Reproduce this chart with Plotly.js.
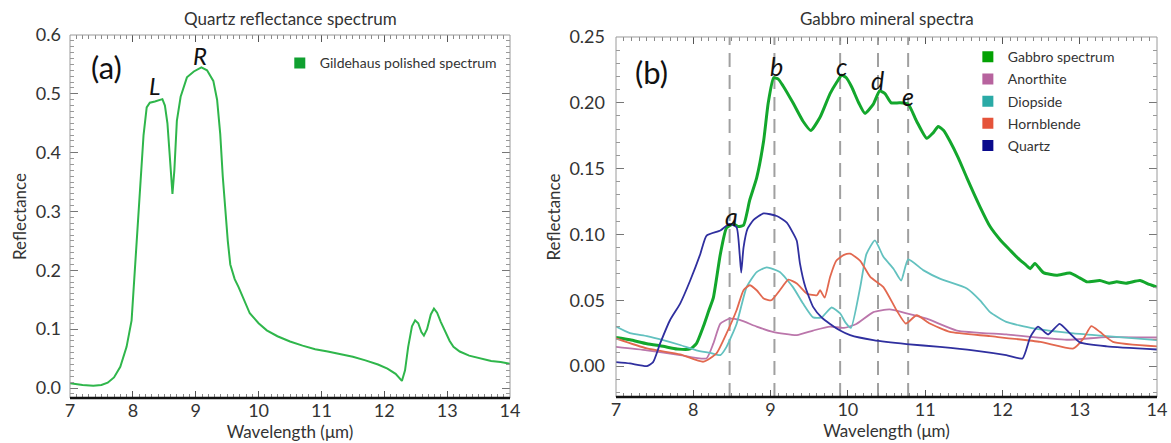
<!DOCTYPE html>
<html>
<head>
<meta charset="utf-8">
<script src="https://cdn.plot.ly/plotly-3.0.1.min.js"></script>
<style>html,body{margin:0;padding:0;background:#fff;}#chart{width:1171px;height:443px;}</style>
</head>
<body>
<div id="chart"></div>
<script>
// ---------- Panel (a): quartz polished spectrum ----------
const polishedX = [7.0,7.2,7.37,7.5,7.6,7.7,7.8,7.9,7.98,8.03,8.09,8.13,8.17,8.22,8.27,8.35,8.42,8.47,8.51,8.55,8.59,8.63,8.66,8.7,8.76,8.86,8.97,9.09,9.18,9.28,9.34,9.39,9.43,9.47,9.51,9.55,9.62,9.68,9.77,9.86,10.0,10.13,10.3,10.5,10.7,10.9,11.1,11.3,11.5,11.7,11.9,12.05,12.18,12.28,12.33,12.38,12.44,12.49,12.54,12.59,12.63,12.68,12.74,12.79,12.84,12.9,12.96,13.04,13.1,13.2,13.35,13.52,13.7,13.85,14.0];
const polishedY = [0.008,0.005,0.004,0.005,0.009,0.018,0.036,0.07,0.115,0.2,0.29,0.37,0.43,0.477,0.485,0.487,0.49,0.491,0.48,0.45,0.39,0.33,0.37,0.454,0.495,0.528,0.538,0.545,0.54,0.522,0.49,0.432,0.36,0.30,0.25,0.21,0.185,0.172,0.148,0.127,0.11,0.098,0.088,0.079,0.072,0.066,0.062,0.058,0.053,0.047,0.04,0.033,0.024,0.012,0.03,0.07,0.105,0.115,0.11,0.095,0.089,0.1,0.125,0.135,0.128,0.112,0.098,0.08,0.07,0.062,0.055,0.05,0.046,0.044,0.041];

// ---------- Panel (b): gabbro mineral spectra ----------
const gabbroX = [7.0,7.18,7.4,7.61,7.79,7.96,8.04,8.13,8.2,8.26,8.35,8.43,8.52,8.58,8.65,8.73,8.82,8.91,8.97,9.04,9.1,9.16,9.29,9.42,9.52,9.64,9.77,9.86,9.92,9.98,10.05,10.14,10.22,10.33,10.41,10.48,10.56,10.67,10.78,10.89,11.02,11.1,11.17,11.24,11.32,11.43,11.54,11.71,11.84,11.97,12.1,12.2,12.3,12.36,12.42,12.53,12.7,12.87,13.0,13.09,13.26,13.38,13.48,13.6,13.78,13.9,14.0];
const gabbroY = [0.0217,0.020,0.017,0.015,0.013,0.013,0.017,0.030,0.042,0.052,0.085,0.105,0.108,0.106,0.107,0.126,0.143,0.171,0.2,0.219,0.218,0.213,0.2,0.186,0.179,0.189,0.207,0.216,0.221,0.219,0.212,0.2,0.192,0.199,0.209,0.207,0.2,0.2,0.199,0.186,0.173,0.177,0.182,0.179,0.171,0.158,0.143,0.121,0.106,0.096,0.088,0.082,0.077,0.074,0.078,0.071,0.069,0.0707,0.067,0.064,0.065,0.063,0.064,0.063,0.065,0.062,0.060];

const anorthiteX = [7.0,7.4,7.83,8.17,8.26,8.35,8.47,8.6,8.82,9.03,9.34,9.55,9.77,9.95,10.11,10.33,10.54,10.76,11.02,11.41,12.05,12.83,13.35,14.0];
const anorthiteY = [0.0146,0.012,0.0083,0.0058,0.0172,0.0323,0.036,0.035,0.030,0.026,0.0235,0.027,0.030,0.029,0.032,0.041,0.043,0.040,0.036,0.027,0.024,0.020,0.022,0.0217];

const diopsideX = [7.0,7.18,7.4,7.61,7.83,8.04,8.22,8.35,8.43,8.56,8.69,8.82,8.95,9.12,9.29,9.42,9.55,9.66,9.79,9.9,9.97,10.04,10.16,10.24,10.35,10.46,10.59,10.69,10.78,10.98,11.19,11.54,11.71,11.84,12.05,12.4,12.92,13.35,14.0];
const diopsideY = [0.030,0.025,0.0227,0.0197,0.016,0.012,0.010,0.0083,0.0146,0.032,0.060,0.0714,0.075,0.0714,0.060,0.0475,0.037,0.037,0.0445,0.040,0.033,0.029,0.060,0.085,0.0955,0.083,0.074,0.065,0.081,0.0727,0.0664,0.059,0.05,0.041,0.0336,0.0286,0.0248,0.0227,0.0197];

const hornblendeX = [7.0,7.4,7.83,8.13,8.3,8.43,8.56,8.65,8.73,8.82,8.91,9.01,9.12,9.23,9.34,9.47,9.6,9.64,9.7,9.77,9.85,9.95,10.03,10.16,10.29,10.46,10.63,10.75,10.89,11.06,11.32,11.84,12.49,12.92,13.05,13.15,13.26,13.43,14.0];
const hornblendeY = [0.021,0.0134,0.0089,0.0033,0.0096,0.0248,0.0424,0.0576,0.0614,0.0576,0.0513,0.05,0.0576,0.0657,0.0627,0.055,0.0538,0.0576,0.052,0.0677,0.080,0.0845,0.0854,0.080,0.0677,0.060,0.0424,0.0323,0.0386,0.0323,0.026,0.0227,0.0184,0.0134,0.021,0.0303,0.026,0.0184,0.015];

const quartzX = [7.0,7.18,7.4,7.48,7.57,7.7,7.83,7.96,8.09,8.17,8.35,8.47,8.56,8.6,8.62,8.65,8.7,8.78,8.91,9.08,9.21,9.3,9.34,9.38,9.45,9.55,9.66,9.77,9.9,10.03,10.33,10.76,11.19,11.62,12.05,12.26,12.36,12.46,12.59,12.74,12.87,13.0,13.35,14.0];
const quartzY = [0.003,0.002,0.0,0.003,0.017,0.035,0.0475,0.065,0.085,0.099,0.103,0.108,0.1055,0.085,0.071,0.09,0.104,0.111,0.116,0.114,0.109,0.1,0.095,0.078,0.06,0.045,0.037,0.032,0.027,0.0235,0.0197,0.0167,0.0146,0.012,0.0083,0.0058,0.022,0.030,0.024,0.032,0.025,0.018,0.015,0.0126];

const featureX = [8.47, 9.05, 9.9, 10.39, 10.78];
const featureLabels = ['a', 'b', 'c', 'd', 'e'];
const featureLabelX = [8.5, 9.08, 9.92, 10.38, 10.78];
const featureLabelY = [0.114, 0.228, 0.228, 0.217, 0.205];

const quartzPeakLabels = ['L', 'R'];
const quartzPeakX = [8.35, 9.07];
const quartzPeakY = [0.515, 0.565];

const seriesNames = ['Gabbro spectrum', 'Anorthite', 'Diopside', 'Hornblende', 'Quartz'];
const lineColors = ['#13a72c', '#bb76ab', '#62c1bf', '#e2684f', '#2f2f9f'];
const legendColors = ['#03a103', '#b7639e', '#2aaaa6', '#e5533a', '#0a0a8c'];
const lineWidths = [3, 1.8, 1.8, 1.8, 1.8];
const seriesX = [gabbroX, anorthiteX, diopsideX, hornblendeX, quartzX];
const seriesY = [gabbroY, anorthiteY, diopsideY, hornblendeY, quartzY];

const FONT = 'Lato, "Open Sans", "DejaVu Sans", sans-serif';
const TXT = '#333333';

const traces = [];
traces.push({x: polishedX, y: polishedY, xaxis: 'x', yaxis: 'y', mode: 'lines',
  line: {color: '#2fb64b', width: 2}, showlegend: false, hoverinfo: 'x+y'});
traces.push({x: [null], y: [null], xaxis: 'x', yaxis: 'y', mode: 'markers', name: 'Gildehaus polished spectrum',
  marker: {symbol: 'square', size: 11, color: '#10a030'}, legend: 'legend', showlegend: true});

seriesNames.forEach((n, i) => {
  traces.push({x: seriesX[i], y: seriesY[i], xaxis: 'x2', yaxis: 'y2', mode: 'lines', name: n,
    line: {color: lineColors[i], width: lineWidths[i], shape: 'spline', smoothing: 0.5}, showlegend: false});
});
seriesNames.forEach((n, i) => {
  traces.push({x: [null], y: [null], xaxis: 'x2', yaxis: 'y2', mode: 'markers', name: n,
    marker: {symbol: 'square', size: 11, color: legendColors[i]}, legend: 'legend2',
    legendgroup: 'g' + i, showlegend: true});
});

function xax(domain, anchor) {
  return {domain: domain, anchor: anchor, range: [7, 14], dtick: 1, tick0: 7,
    ticks: 'inside', ticklen: 7, tickwidth: 1, tickcolor: '#555', mirror: 'ticks',
    showline: false, zeroline: false, showgrid: false,
    minor: {dtick: 0.1, ticks: 'inside', ticklen: 4, tickcolor: '#888', showgrid: false},
    tickfont: {family: FONT, size: 18, color: TXT},
    title: {text: 'Wavelength (μm)', font: {family: FONT, size: 17, color: TXT}, standoff: 1}};
}
function yax(domain, anchor, range, dtick, fmt, standoff) {
  return {domain: domain, anchor: anchor, range: range, dtick: dtick, tick0: 0, tickformat: fmt,
    ticks: 'inside', ticklen: 8, tickwidth: 1, tickcolor: '#777', mirror: 'ticks',
    showline: false, zeroline: false, showgrid: false, ticklabelstandoff: standoff,
    minor: {dtick: 0.01, ticks: 'inside', ticklen: 4, tickcolor: '#999', showgrid: false},
    tickfont: {family: FONT, size: 18, color: TXT},
    title: {text: 'Reflectance', font: {family: FONT, size: 17, color: TXT}, standoff: 4}};
}

const shapes = [];
['x', 'x2'].forEach((xa, k) => {
  const ya = k === 0 ? 'y' : 'y2';
  shapes.push({type: 'rect', xref: xa + ' domain', yref: ya + ' domain', x0: 0, x1: 1, y0: 0, y1: 1,
    line: {color: '#9a9a9a', width: 1}, layer: 'above'});
  shapes.push({type: 'line', xref: xa + ' domain', yref: ya + ' domain', x0: 0, x1: 1, y0: 0, y1: 0,
    line: {color: '#111', width: 2.5}, layer: 'above'});
});
featureX.forEach(fx => {
  shapes.push({type: 'line', xref: 'x2', yref: 'y2 domain', x0: fx, x1: fx, y0: 0, y1: 1,
    line: {color: '#a0a0a0', width: 2, dash: '14px,8px'}, layer: 'below'});
});

const C = {xanchor: 'center', yanchor: 'middle', showarrow: false};
const annotations = [
  Object.assign({text: 'Quartz reflectance spectrum', xref: 'x domain', yref: 'paper', x: 0.5, y: 1.046,
   font: {family: FONT, size: 17, color: TXT}}, C),
  Object.assign({text: 'Gabbro mineral spectra', xref: 'x2 domain', yref: 'paper', x: 0.5, y: 1.046,
   font: {family: FONT, size: 17, color: TXT}}, C),
  Object.assign({text: '(a)', xref: 'x domain', yref: 'y domain', x: 0.082, y: 0.913,
   font: {family: FONT, size: 31, color: '#111'}}, C),
  Object.assign({text: '(b)', xref: 'x2 domain', yref: 'y2 domain', x: 0.066, y: 0.904,
   font: {family: FONT, size: 31, color: '#111'}}, C)
];
quartzPeakLabels.forEach((t, i) => annotations.push(Object.assign({text: '<i>' + t + '</i>', xref: 'x', yref: 'y',
  x: quartzPeakX[i], y: quartzPeakY[i], font: {family: FONT, size: 24, color: '#111'}}, C)));
featureLabels.forEach((t, i) => annotations.push(Object.assign({text: '<i>' + t + '</i>', xref: 'x2', yref: 'y2',
  x: featureLabelX[i], y: featureLabelY[i], font: {family: FONT, size: 25, color: '#111'}}, C)));

const layout = {
  width: 1171, height: 443,
  margin: {l: 70, r: 14, t: 35, b: 45},
  paper_bgcolor: '#ffffff', plot_bgcolor: '#ffffff',
  xaxis: xax([0, 0.4048], 'y'),
  yaxis: yax([0, 1], 'x', [-0.017, 0.6], 0.1, '.1f', 8),
  xaxis2: xax([0.5023, 1], 'y2'),
  yaxis2: yax([0.00275, 0.9945], 'x2', [-0.0235, 0.25], 0.05, '.2f', 10),
  legend: {x: 0.193, y: 0.966, xanchor: 'left', yanchor: 'top', bgcolor: 'rgba(0,0,0,0)',
    font: {family: FONT, size: 14, color: TXT}, itemsizing: 'trace'},
  legend2: {x: 0.826, y: 0.983, xanchor: 'left', yanchor: 'top', bgcolor: 'rgba(0,0,0,0)',
    font: {family: FONT, size: 14, color: TXT}, itemsizing: 'trace', tracegroupgap: 1},
  shapes: shapes,
  annotations: annotations,
  showlegend: true
};

Plotly.newPlot('chart', traces, layout, {displayModeBar: false, staticPlot: true});
</script>
</body>
</html>
